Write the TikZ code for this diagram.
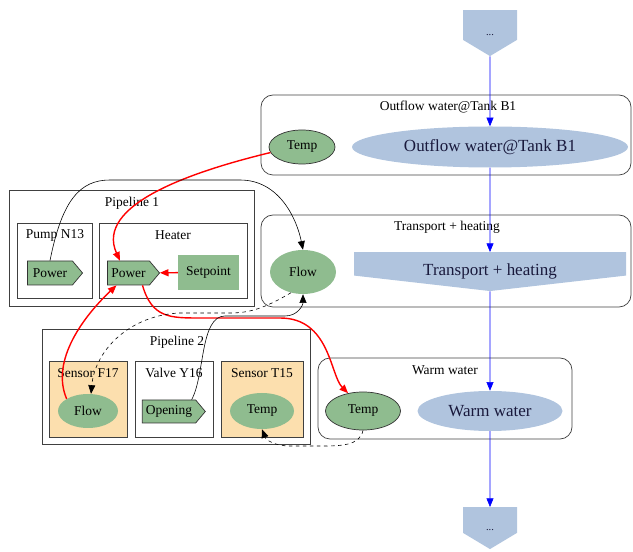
\documentclass[tikz,border=0pt]{standalone}
\usepackage{fontspec}
\setmainfont{Liberation Serif}
\usetikzlibrary{arrows.meta,shapes.geometric,shapes.symbols}
\definecolor{grnCol}{RGB}{143,188,143}
\definecolor{blueCol}{RGB}{176,196,222}
\definecolor{sensCol}{RGB}{252,223,174}
\definecolor{txtCol}{RGB}{25,25,60}
\tikzset{
  grp/.style={draw=black!75,line width=0.6pt},
  rgrp/.style={grp,rounded corners=3.6mm},
  sens/.style={grp,fill=sensCol},
  ttl/.style={font=\fontsize{11.5}{13}\selectfont,inner sep=0pt},
  meas/.style={ellipse,fill=grnCol,inner sep=0pt,font=\fontsize{11.5}{13}\selectfont},
  measb/.style={meas,draw=black!80,line width=0.6pt},
  act/.style={signal,signal to=east,signal pointer angle=100,draw=black!80,fill=grnCol,
              line width=0.6pt,inner sep=0pt,font=\fontsize{11.5}{13}\selectfont},
  setp/.style={rectangle,fill=grnCol,inner sep=0pt,font=\fontsize{11.5}{13}\selectfont},
  proc/.style={ellipse,fill=blueCol,text=txtCol,inner sep=0pt,font=\fontsize{14.5}{16}\selectfont},
  procs/.style={signal,signal to=south,fill=blueCol,text=txtCol,inner sep=0pt},
  flow/.style={-{Triangle[length=2.6mm,width=2.1mm]},line width=0.5pt},
  ctrl/.style={flow,red,line width=1.2pt},
  dep/.style={flow,dashed},
  chain/.style={flow,blue},
}

\begin{document}
\begin{tikzpicture}[x=0.3mm,y=-0.3mm]
  \useasboundingbox (0,0) rectangle (633,552);
  % groups
  \draw[rgrp] (261,95) rectangle (631,175);
  \node[ttl] (t-out) at (448,107) {Outflow water@Tank B1};
  \draw[rgrp] (261,215) rectangle (631,307);
  \node[ttl] (t-trans) at (447,227) {Transport + heating};
  \draw[rgrp] (318,358) rectangle (572,439);
  \node[ttl] (t-warm) at (445,370) {Warm water};
  \draw[grp] (9,190) rectangle (254,306);
  \node[ttl] (t-pipe1) at (132,203) {Pipeline 1};
  \draw[grp] (17,223) rectangle (92,298);
  \node[ttl] (t-pump) at (55,235) {Pump N13};
  \draw[grp] (99,223) rectangle (247,298);
  \node[ttl] (t-heat) at (173,235) {Heater};
  \draw[grp] (42,329) rectangle (310,444);
  \node[ttl] (t-pipe2) at (177,342) {Pipeline 2};
  \draw[sens] (49,361) rectangle (127,437);
  \node[ttl] (t-f17) at (88,373) {Sensor F17};
  \draw[grp] (135,361) rectangle (213,437);
  \node[ttl] (t-y16) at (174,373) {Valve Y16};
  \draw[sens] (221,361) rectangle (303,437);
  \node[ttl] (t-t15) at (262,373) {Sensor T15};

  % process chain
  \node[procs,signal pointer angle=118,minimum width=16.2mm,minimum height=9.6mm,anchor=north,
        text height=6mm,text depth=0pt] (topdots) at (490,10) {\small ...};
  \node[proc,minimum width=82.8mm,minimum height=12.3mm] (outflow) at (490,147) {Outflow water@Tank B1};
  \node[procs,signal pointer angle=167,minimum width=81.6mm,minimum height=9mm,anchor=north,
        text height=7mm,text depth=0pt,
        font=\fontsize{14.5}{16}\selectfont] (trans) at (490,252) {Transport + heating};
  \node[proc,minimum width=43.5mm,minimum height=12mm] (warm) at (490,411) {Warm water};
  \node[procs,signal pointer angle=118,minimum width=16.2mm,minimum height=8.4mm,anchor=north,
        text height=6mm,text depth=0pt] (botdots) at (490,507) {\small ...};

  % signals
  \node[measb,minimum width=19.8mm,minimum height=10.2mm] (otemp) at (302,147) {Temp};
  \node[meas,minimum width=19.8mm,minimum height=13.2mm] (tflow) at (303,272) {Flow};
  \node[measb,minimum width=22.5mm,minimum height=11.4mm] (wtemp) at (363,411) {Temp};
  \node[act,minimum width=16.5mm,minimum height=7.2mm] (ppower) at (50,273) {Power};
  \node[act,minimum width=15.6mm,minimum height=7.2mm] (hpower) at (128.5,273) {Power};
  \node[setp,minimum width=18.3mm,minimum height=10.5mm] (setpt) at (208.5,272.5) {Setpoint};
  \node[meas,minimum width=18mm,minimum height=10.2mm] (fflow) at (88,411) {Flow};
  \node[act,minimum width=18.9mm,minimum height=6.9mm] (opening) at (169,411.5) {Opening};
  \node[meas,minimum width=19.2mm,minimum height=10.8mm] (ttemp) at (262,411) {Temp};

  % connectors
  \draw[chain] (topdots) -- (outflow);
  \draw[chain] (outflow) -- (trans);
  \draw[chain] (trans) -- (warm);
  \draw[chain] (warm) -- (botdots);
  \draw[ctrl] (setpt) -- (hpower);
  \draw[ctrl] (otemp.190) .. controls (190,172) and (95,205) .. (hpower.125);
  \draw[ctrl] (fflow.north west) .. controls (50,360) and (85,315) .. ([xshift=-3.6mm]hpower.south);
  \draw[ctrl] ([xshift=4.2mm]hpower.south) .. controls (152,318) and (170,318) .. (200,318)
    -- (280,318) .. controls (330,318) and (330,375) .. (wtemp.130);
  \draw[flow] (ppower.north) .. controls (62,200) and (80,180) .. (110,180)
    -- (240,180) .. controls (280,180) and (297,220) .. (tflow.north);
  \draw[flow] ([xshift=6.8mm]opening.north) .. controls (205,375) and (200,316) .. (225,316)
    -- (285,316) .. controls (298,316) and (303,305) .. (tflow.south);
  \draw[dep] (tflow.240) .. controls (265,308) and (250,313) .. (230,313)
    -- (180,313) .. controls (130,315) and (95,350) .. (fflow.80);
  \draw[dep] (wtemp.south) .. controls (360,446) and (340,446) .. (320,446)
    -- (290,446) .. controls (275,446) and (266,440) .. (ttemp.south);
\end{tikzpicture}
\end{document}
